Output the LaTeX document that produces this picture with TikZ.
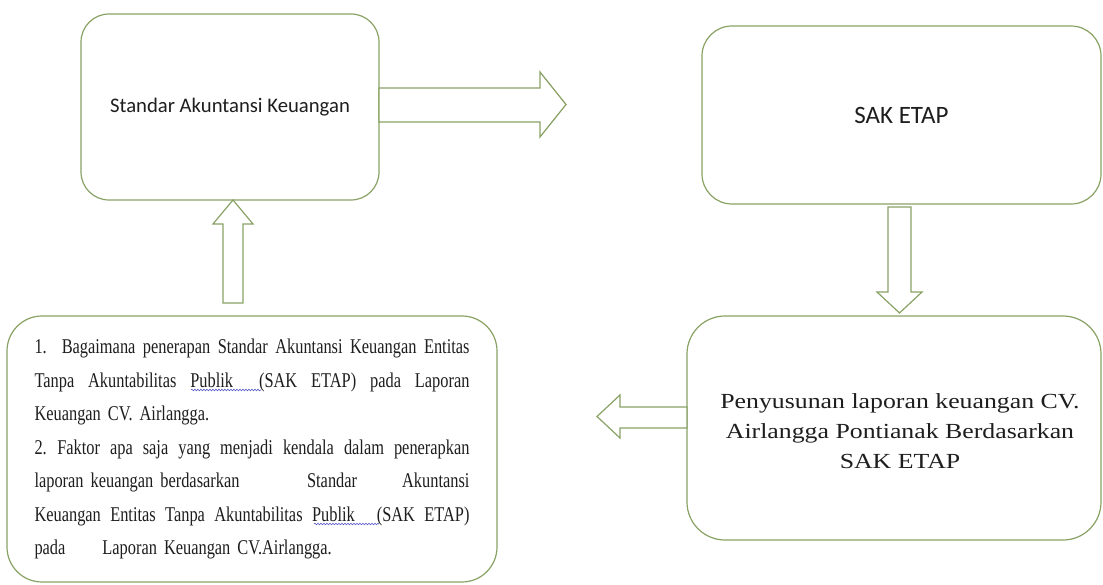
\documentclass[tikz,border=0pt]{standalone}
\usepackage{fontspec}
\setmainfont{Liberation Serif}
\newfontfamily\calib{Carlito}
\newfontfamily\condser{Liberation Serif}[FakeStretch=0.78]
\newfontfamily\wideser{Liberation Serif}[FakeStretch=1.2]
\usetikzlibrary{decorations.pathmorphing}
\definecolor{boxgreen}{RGB}{137,162,100}
\definecolor{spell}{RGB}{90,90,200}
\definecolor{ink}{RGB}{30,30,30}
\newcommand\jline[1]{\makebox[435pt][s]{\spaceskip=0.25em plus 1fil\relax #1}}
\begin{document}
\begin{tikzpicture}[x=1pt,y=-1pt,
  box/.style={draw=boxgreen, line width=1.2pt, rounded corners=#1, fill=white, text=ink},
  blockarrow/.style={draw=boxgreen, line width=1.2pt, fill=white, line join=miter},
  spellline/.style={draw=spell, line width=0.6pt, decorate, decoration={snake, amplitude=0.8pt, segment length=3pt}}]
\useasboundingbox[fill=white] (0,0) rectangle (1103,585);

% boxes
\node[box=28, minimum width=298pt, minimum height=186pt, font=\calib\fontsize{20.7}{25}\selectfont] (sak) at (230,107) {Standar Akuntansi Keuangan};
\node[box=30, minimum width=399pt, minimum height=178pt, font=\calib\fontsize{25}{30}\selectfont] (etap) at (901.5,115) {SAK ETAP};
\node[box=38, minimum width=414pt, minimum height=224pt] (pen) at (894,428) {};
\node[text=ink, align=center, inner sep=0pt, font=\wideser\fontsize{21.5}{30}\selectfont] (pentext) at (900,431) {Penyusunan laporan keuangan CV.\\Airlangga Pontianak Berdasarkan\\SAK ETAP};
\node[box=35, minimum width=490pt, minimum height=266pt, inner sep=0pt, text width=435pt, align=left, font=\condser\fontsize{21}{33.5}\selectfont] (rm) at (252,449) {%
\jline{1.\ \ Bagaimana penerapan Standar Akuntansi Keuangan Entitas}\\
\jline{Tanpa Akuntabilitas Publik\hspace{26pt}(SAK ETAP) pada Laporan}\\
Keuangan CV. Airlangga.\\
\jline{2. Faktor apa saja yang menjadi kendala dalam penerapkan}\\
\makebox[435pt][s]{laporan keuangan berdasarkan\hskip 0pt plus 3fill Standar\hskip 0pt plus 2fill Akuntansi}\\
\jline{Keuangan Entitas Tanpa Akuntabilitas Publik\hspace{22pt}(SAK ETAP)}\\
pada\hspace{37pt}Laporan Keuangan CV.Airlangga.};

% spell-check underlines
\draw[spellline] (191,390) -- (261,390);
\draw[spellline] (314,524) -- (379,524);

% block arrows
\draw[blockarrow] (379,88) -- (540,88) -- (540,72) -- (566,104.5) -- (540,137) -- (540,122) -- (379,122) -- cycle;
\draw[blockarrow] (223,303) -- (223,224) -- (213,224) -- (233,200) -- (253,224) -- (243,224) -- (243,303) -- cycle;
\draw[blockarrow] (888,207) -- (911,207) -- (911,292) -- (922,292) -- (899.5,313) -- (877,292) -- (888,292) -- cycle;
\draw[blockarrow] (687,407) -- (620,407) -- (620,395) -- (597,416.5) -- (620,438) -- (620,428) -- (687,428) -- cycle;
\end{tikzpicture}
\end{document}
